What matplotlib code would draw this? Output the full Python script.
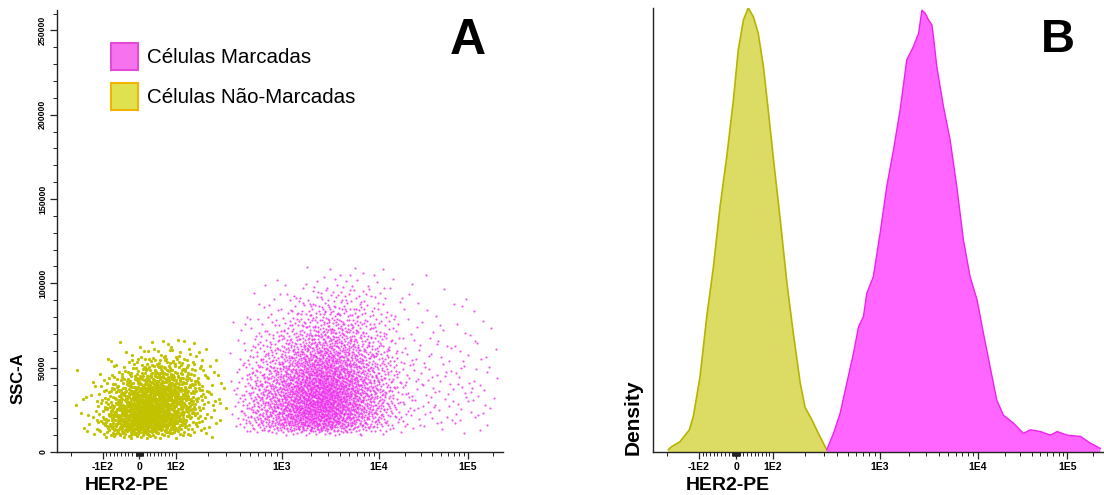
import numpy as np
import matplotlib
matplotlib.use("Agg")
from matplotlib import pyplot as plt
import matplotlib.patches as mpatches
from matplotlib.ticker import FixedLocator, NullFormatter

plt.rcParams['font.family'] = ['Liberation Sans', 'DejaVu Sans']

# ---- panel B: HER2-PE histograms (relative density) ----
yel_hist_x = [-194, -181, -151, -123, -113, -97, -79, -61, -43, -25, -7, 6, 20, 33,
              47, 60, 74, 87, 101, 116, 135, 155, 180, 200, 232, 266, 319]
yel_hist_y = [0.005, 0.012, 0.023, 0.05, 0.08, 0.17, 0.305, 0.417, 0.553, 0.665, 0.793,
              0.905, 0.973, 1.0, 0.98, 0.943, 0.868, 0.77, 0.658, 0.53, 0.38, 0.267,
              0.155, 0.10, 0.072, 0.042, 0.005]

mag_hist_x = [319, 369, 426, 492, 568, 634, 705, 757, 874, 1012, 1183, 1384, 1619, 1893,
              2214, 2500, 2704, 2924, 3162, 3420, 3548, 3837, 4487, 5248, 6138, 7178,
              8395, 9908, 11640, 13800, 16370, 19400, 25100, 32400, 38800, 50100, 64900,
              76900, 99300, 142600, 186000, 244000]
mag_hist_y = [0.005, 0.042, 0.087, 0.155, 0.222, 0.282, 0.305, 0.357, 0.395, 0.493,
              0.598, 0.68, 0.77, 0.883, 0.913, 0.943, 0.995, 0.988, 0.973, 0.962, 0.935,
              0.868, 0.778, 0.703, 0.598, 0.477, 0.395, 0.342, 0.267, 0.192, 0.117,
              0.083, 0.065, 0.042, 0.05, 0.046, 0.038, 0.046, 0.038, 0.035, 0.02, 0.008]

# ---- panel A: SSC-A profiles (relative density) for the low-HER2 and high-HER2 side ----
n_yellow = 1300
yel_y_grid = [8000, 10000, 13000, 17000, 22000, 27000, 32000, 37000, 42000, 47000,
              52000, 57000, 62000, 68000, 72000]
yel_y_low = [0, 0.5, 1.0, 1.0, 0.92, 0.78, 0.6, 0.42, 0.27, 0.15, 0.08, 0.04, 0.015, 0.003, 0]
yel_y_high = [0, 0.2, 0.5, 0.7, 0.85, 0.95, 1.0, 0.95, 0.82, 0.62, 0.42, 0.25, 0.12, 0.04, 0]

n_magenta = 3400
mag_y_grid = [10000, 12000, 15000, 20000, 25000, 30000, 35000, 40000, 45000, 50000,
              55000, 60000, 65000, 70000, 80000, 90000, 100000, 110000, 115000]
mag_y_low = [0, 0.3, 0.8, 1.0, 1.0, 0.95, 0.9, 0.8, 0.68, 0.56, 0.45, 0.35, 0.27,
             0.2, 0.1, 0.04, 0.01, 0.002, 0]
mag_y_high = [0, 0.25, 0.6, 0.85, 0.95, 1.0, 1.0, 0.95, 0.88, 0.8, 0.7, 0.6, 0.5,
              0.42, 0.28, 0.17, 0.09, 0.03, 0]

x_tick_vals = [-100, 0, 100, 1000, 10000, 100000]
x_tick_labels = ['-1E2', '0', '1E2', '1E3', '1E4', '1E5']
y_tick_vals = [0, 50000, 100000, 150000, 200000, 250000]
legend_labels = ['Células Marcadas', 'Células Não-Marcadas']

YELLOW_DOT = '#c2c200'
MAGENTA_DOT = '#ee2cee'
YELLOW_FILL = '#dcdc64'
YELLOW_EDGE = '#b5b500'
MAGENTA_FILL = '#ff66ff'
MAGENTA_EDGE = '#ee22ee'

# biexponential-like axis: linear within +-100, log decades beyond
H_KNOTS = [-6, -5, -4, -3, -2, -1, 0, 1, 2, 3, 4, 5, 6, 7]
U_KNOTS = [-15.39, -12.51, -9.63, -6.75, -3.877, -1, 0, 1, 3.877, 6.521, 8.946,
           11.246, 13.546, 15.846]


def to_h(x):
    x = np.asarray(x, dtype=float)
    a = np.abs(x)
    return np.where(a <= 100, x / 100.0,
                    np.sign(x) * (1 + np.log10(np.maximum(a, 100) / 100.0)))


def fwd(x):
    return np.interp(to_h(x), H_KNOTS, U_KNOTS)


def inv(u):
    h = np.interp(np.asarray(u, dtype=float), U_KNOTS, H_KNOTS)
    a = np.abs(h)
    return np.where(a <= 1, 100.0 * h, np.sign(h) * 100.0 * 10 ** (np.maximum(a, 1) - 1))


def halton(n, base):
    out = np.zeros(n)
    for i in range(n):
        f, r, k = 1.0, 0.0, i + 1
        while k > 0:
            f /= base
            r += f * (k % base)
            k //= base
        out[i] = r
    return out


def quantile(grid, dens, q):
    grid = np.asarray(grid, float)
    dens = np.asarray(dens, float)
    cdf = np.concatenate([[0], np.cumsum((dens[1:] + dens[:-1]) / 2 * np.diff(grid))])
    cdf = cdf / cdf[-1] + np.linspace(0, 1e-9, len(cdf))
    return np.interp(q, cdf, grid)


def cloud(hist_x, hist_y, y_grid, y_low, y_high, n):
    # events placed at evenly spread quantiles of the measured distributions
    qx, qy = halton(n, 2), halton(n, 3)
    u = quantile(fwd(hist_x), hist_y, qx)
    y = (1 - qx) * quantile(y_grid, y_low, qy) + qx * quantile(y_grid, y_high, qy)
    return inv(u), y


minor_x = ([-200] + list(range(-90, 0, 10)) + list(range(-9, 0)) + list(range(1, 10))
           + list(range(10, 100, 10)) + list(range(200, 1000, 100))
           + list(range(2000, 10000, 1000)) + list(range(20000, 100000, 10000))
           + [200000])


def style_x(ax):
    ax.set_xscale('function', functions=(fwd, inv))
    ax.set_xlim(-270, 262144)
    ax.xaxis.set_major_locator(FixedLocator(x_tick_vals))
    ax.set_xticklabels(x_tick_labels, fontsize=7.5, fontweight='bold')
    ax.xaxis.set_minor_locator(FixedLocator(minor_x))
    ax.xaxis.set_minor_formatter(NullFormatter())
    ax.tick_params(axis='x', which='major', length=5, width=0.9, pad=2, color='#222222')
    ax.tick_params(axis='x', which='minor', length=3, width=0.7, color='#222222')
    for s in ['top', 'right']:
        ax.spines[s].set_visible(False)
    for s in ['left', 'bottom']:
        ax.spines[s].set_color('#222222')
        ax.spines[s].set_linewidth(1.0)


fig = plt.figure(figsize=(11.04, 4.95), dpi=100)
axA = fig.add_axes([0.0516, 0.0869, 0.404, 0.893])
axB = fig.add_axes([0.5915, 0.0869, 0.4076, 0.897])

# panel A
yx, yy = cloud(yel_hist_x, yel_hist_y, yel_y_grid, yel_y_low, yel_y_high, n_yellow)
mx, my = cloud(mag_hist_x, mag_hist_y, mag_y_grid, mag_y_low, mag_y_high, n_magenta)
axA.scatter(mx, my, s=2.4, color=MAGENTA_DOT, linewidths=0, alpha=0.8)
axA.scatter(yx, yy, s=5.5, color=YELLOW_DOT, linewidths=0)
style_x(axA)
axA.set_ylim(0, 262144)
axA.set_yticks(y_tick_vals)
axA.set_yticklabels([str(v) for v in y_tick_vals], fontsize=6.3, fontweight='bold',
                    rotation=90, va='center')
axA.yaxis.set_minor_locator(FixedLocator(np.arange(0, 262144, 10000)))
axA.tick_params(axis='y', which='major', length=5, width=0.9, pad=2, color='#222222')
axA.tick_params(axis='y', which='minor', length=3, width=0.7, color='#222222')

axA.set_xlabel('HER2-PE', fontsize=14, fontweight='bold', ha='left', va='center')
axA.xaxis.set_label_coords(0.062, -0.075)
axA.set_ylabel('SSC-A', fontsize=12, fontweight='bold', va='center')
axA.yaxis.set_label_coords(-0.087, 0.167)
axA.text(0.921, 0.93, 'A', transform=axA.transAxes, fontsize=36, fontweight='bold',
         ha='center', va='center')

handles = [
    mpatches.Patch(facecolor='#f772ee', edgecolor='#e44ad8', linewidth=1.5, label=legend_labels[0]),
    mpatches.Patch(facecolor='#dfe24e', edgecolor='#f2b400', linewidth=1.5, label=legend_labels[1]),
]
axA.legend(handles=handles, loc='upper left', bbox_to_anchor=(0.121, 0.925), frameon=False,
           fontsize=14.8, handlelength=1.3, handleheight=1.64, handletextpad=0.44,
           labelspacing=0.63, borderpad=0, borderaxespad=0)

# panel B
axB.fill_between(yel_hist_x, 0, yel_hist_y, facecolor=YELLOW_FILL, edgecolor='none')
axB.plot(yel_hist_x, yel_hist_y, color=YELLOW_EDGE, lw=1.2)
axB.fill_between(mag_hist_x, 0, mag_hist_y, facecolor=MAGENTA_FILL, edgecolor='none')
axB.plot(mag_hist_x, mag_hist_y, color=MAGENTA_EDGE, lw=1.0)
style_x(axB)
axB.set_ylim(0, 1.0)
axB.set_yticks([])
axB.set_xlabel('HER2-PE', fontsize=14, fontweight='bold', ha='left', va='center')
axB.xaxis.set_label_coords(0.073, -0.075)
axB.set_ylabel('Density', fontsize=15, fontweight='bold', va='center')
axB.yaxis.set_label_coords(-0.045, 0.079)
axB.text(0.9, 0.928, 'B', transform=axB.transAxes, fontsize=34, fontweight='bold',
         ha='center', va='center')

fig.savefig('out.png', dpi=100)
